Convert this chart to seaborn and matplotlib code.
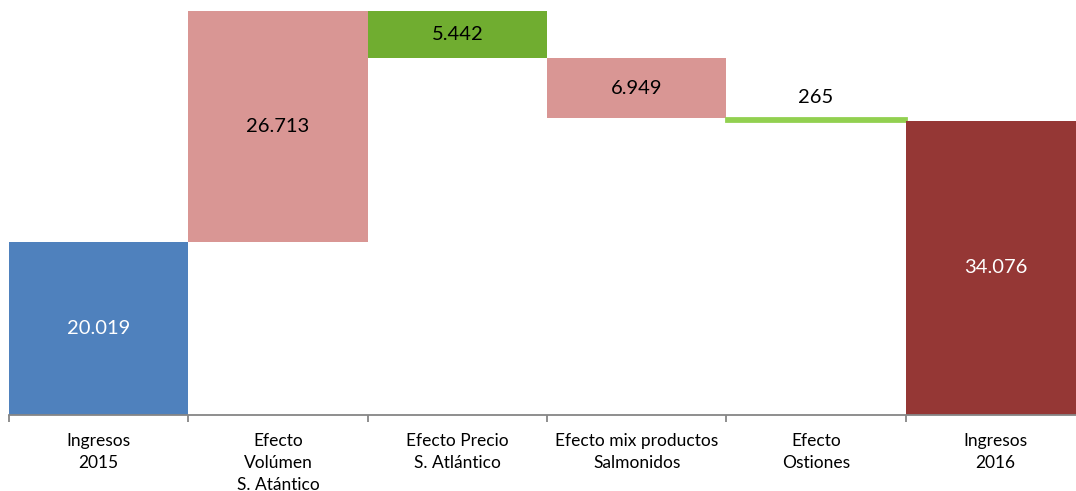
import numpy as np
import pandas as pd
import seaborn as sns
import matplotlib.pyplot as plt

categorias = ["Ingresos\n2015", "Efecto\nVolúmen\nS. Atántico", "Efecto Precio\nS. Atlántico",
              "Efecto mix productos\nSalmonidos", "Efecto\nOstiones", "Ingresos\n2016"]
valores = [20.019, 26.713, -5.442, -6.949, -0.265, 34.076]
es_total = [True, False, False, False, False, True]
colores = ["#4F81BD", "#D99694", "#70AD30", "#D99694", "#92D050", "#953735"]
color_texto = ["white", "black", "black", "black", "black", "white"]

# bases y alturas del waterfall
bases, alturas = [], []
acum = 0
for v, tot in zip(valores, es_total):
    if tot:
        bases.append(0)
        alturas.append(v)
        acum = v
    else:
        inicio = acum
        acum += v
        bases.append(min(inicio, acum))
        alturas.append(abs(v))

df = pd.DataFrame({"cat": categorias, "altura": alturas, "base": bases})

sns.set_theme(style="white")
plt.rcParams['font.family'] = ['Lato', 'DejaVu Sans']

fig = plt.figure(figsize=(10.76, 4.91), dpi=100)
# el eje se sale un poco por la derecha, como en el original
ax = fig.add_axes([9 / 1076, 76 / 491, 1076 / 1076, 415 / 491])

sns.barplot(data=df, x="cat", y="altura", bottom=df["base"].values, width=1,
            errorbar=None, color="gray", linewidth=0, ax=ax)

for i, p in enumerate(ax.patches):
    p.set_facecolor(colores[i])
    if es_total[i] is False and alturas[i] < 1:
        p.set_edgecolor(colores[i])
        p.set_linewidth(2)

for i in range(len(valores)):
    txt = f"{abs(valores[i]) * 1000:,.0f}".replace(",", ".")
    if alturas[i] < 1:
        ax.annotate(txt, (i, bases[i] + alturas[i]), xytext=(0, 9), textcoords="offset points",
                    ha="center", va="bottom", fontsize=14.5, color=color_texto[i])
    else:
        ax.text(i, bases[i] + alturas[i] / 2, txt, ha="center", va="center",
                fontsize=14.5, color=color_texto[i])

ax.set_xlim(-0.5, len(categorias) - 0.5)
ax.set_ylim(0, 415 / 8.64)
ax.set_xlabel("")
ax.set_ylabel("")
ax.set_yticks([])
ax.set_xticks(np.arange(len(categorias)))
ax.set_xticklabels(categorias, fontsize=12.5, color="black", linespacing=1.45)
ax.set_xticks(np.arange(len(categorias) + 1) - 0.5, minor=True)
ax.tick_params(axis="x", which="major", length=0, pad=13)
ax.tick_params(axis="x", which="minor", bottom=True, length=5, width=1.3, color="#868686")

for s in ["top", "left", "right"]:
    ax.spines[s].set_visible(False)
ax.spines["bottom"].set_color("#868686")
ax.spines["bottom"].set_linewidth(1.3)

fig.savefig("out.png", dpi=100)
